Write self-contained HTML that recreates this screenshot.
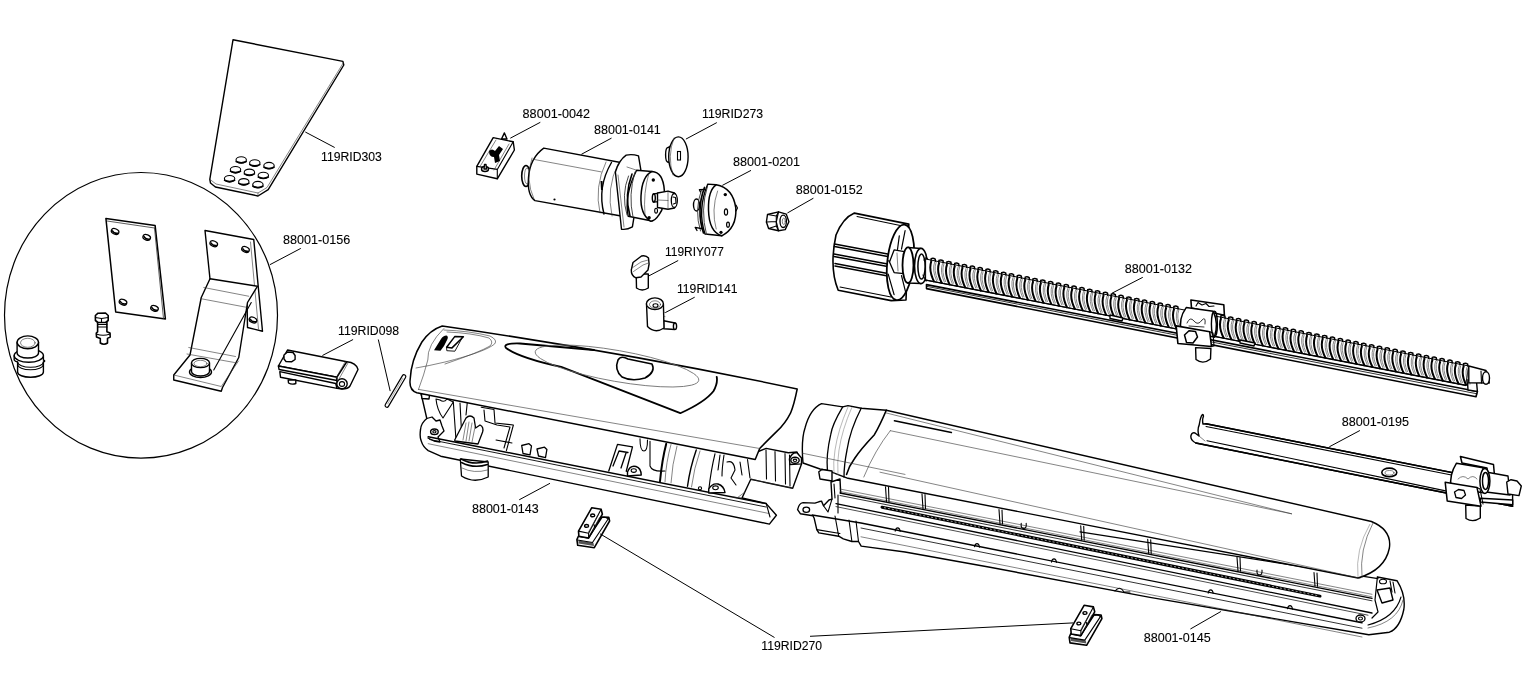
<!DOCTYPE html>
<html><head><meta charset="utf-8"><style>
html,body{margin:0;padding:0;background:#fff;}
svg{display:block;will-change:transform;}
text{font-family:"Liberation Sans",sans-serif;font-size:12px;fill:#000;stroke:#000;stroke-width:0.1;}
.o{fill:#fff;stroke:#000;stroke-width:1.4;stroke-linejoin:round;stroke-linecap:round;}
.l{fill:none;stroke:#000;stroke-width:1.1;stroke-linecap:round;stroke-linejoin:round;}
.t{fill:none;stroke:#333;stroke-width:0.6;stroke-linecap:round;}
.g{fill:none;stroke:#888;stroke-width:0.6;}
.k{fill:none;stroke:#000;stroke-width:1.8;stroke-linecap:round;stroke-linejoin:round;}
.ld{fill:none;stroke:#000;stroke-width:1;}
</style></head><body>
<svg width="1525" height="680" viewBox="0 0 1525 680">
<rect width="1525" height="680" fill="#fff"/>

<!-- PART A: 119RID303 plate -->
<g id="plate303">
<path class="o" d="M233,39.8 L342.9,61.4 L343.8,65 L268.2,189.6 L258,196 L215.4,187 L210.5,183 L209.8,179.3 Z"/>
<path class="t" d="M209.8,179.3 L216,184 L258,193 L267,187.5 L343.2,63"/>
<path class="t" d="M258,193 L258,196"/>
<g class="o" style="stroke-width:1.1">
<ellipse cx="241.2" cy="160" rx="5.2" ry="3.3"/>
<ellipse cx="254.8" cy="163.1" rx="5.2" ry="3.3"/>
<ellipse cx="269" cy="165.7" rx="5.2" ry="3.3"/>
<ellipse cx="235.5" cy="169.8" rx="5.2" ry="3.3"/>
<ellipse cx="249.4" cy="172.4" rx="5.2" ry="3.3"/>
<ellipse cx="263.3" cy="175.5" rx="5.2" ry="3.3"/>
<ellipse cx="229.6" cy="178.8" rx="5.2" ry="3.3"/>
<ellipse cx="243.8" cy="181.9" rx="5.2" ry="3.3"/>
<ellipse cx="257.9" cy="184.7" rx="5.2" ry="3.3"/>
</g>
<g class="k" style="stroke-width:1.6">
<path d="M236.2,161.5 Q241.2,164 246.2,161.5"/>
<path d="M249.8,164.6 Q254.8,167.1 259.8,164.6"/>
<path d="M264,167.2 Q269,169.7 274,167.2"/>
<path d="M230.5,171.3 Q235.5,173.8 240.5,171.3"/>
<path d="M244.4,173.9 Q249.4,176.4 254.4,173.9"/>
<path d="M258.3,177 Q263.3,179.5 268.3,177"/>
<path d="M224.6,180.3 Q229.6,182.8 234.6,180.3"/>
<path d="M238.8,183.4 Q243.8,185.9 248.8,183.4"/>
<path d="M252.9,186.2 Q257.9,188.7 262.9,186.2"/>
</g>
</g>
<!-- PART B: circle detail -->
<g id="circle156">
<ellipse cx="141" cy="315.35" rx="136.5" ry="142.85" fill="none" stroke="#000" stroke-width="1.2"/>
<!-- flat plate -->
<path class="o" style="stroke-width:1.5" d="M105.9,218.4 L155.1,225.4 L165.4,319 L115.7,312 Z"/>
<path class="t" style="stroke-width:0.8" d="M107,221 L154.5,228 M154.5,228 L163.5,318.5"/>
<ellipse cx="115.1" cy="231.5" rx="3.9" ry="2.7" transform="rotate(22 115.1 231.5)" fill="#fff" stroke="#000" stroke-width="1.3"/><path d="M112.1,230.3 Q114.1,234.0 118.3,233.1" fill="none" stroke="#000" stroke-width="1.4"/>
<ellipse cx="146.7" cy="237.4" rx="3.9" ry="2.7" transform="rotate(22 146.7 237.4)" fill="#fff" stroke="#000" stroke-width="1.3"/><path d="M143.7,236.20000000000002 Q145.7,239.9 149.89999999999998,239.0" fill="none" stroke="#000" stroke-width="1.4"/>
<ellipse cx="123" cy="302.2" rx="3.9" ry="2.7" transform="rotate(22 123 302.2)" fill="#fff" stroke="#000" stroke-width="1.3"/><path d="M120,301.0 Q122,304.7 126.2,303.8" fill="none" stroke="#000" stroke-width="1.4"/>
<ellipse cx="154.5" cy="308.4" rx="3.9" ry="2.7" transform="rotate(22 154.5 308.4)" fill="#fff" stroke="#000" stroke-width="1.3"/><path d="M151.5,307.2 Q153.5,310.9 157.7,310.0" fill="none" stroke="#000" stroke-width="1.4"/>
<!-- bracket -->
<path class="o" d="M205,230.5 L253.75,239.5 L262.5,331.25 L247.5,327.5 L247,300 L210,279 Z"/>
<path class="t" d="M250.5,242 L258.5,329"/>
<ellipse cx="213.75" cy="243.75" rx="3.9" ry="2.7" transform="rotate(22 213.75 243.75)" fill="#fff" stroke="#000" stroke-width="1.3"/><path d="M210.75,242.55 Q212.75,246.25 216.95,245.35" fill="none" stroke="#000" stroke-width="1.4"/>
<ellipse cx="245.5" cy="249.5" rx="3.9" ry="2.7" transform="rotate(22 245.5 249.5)" fill="#fff" stroke="#000" stroke-width="1.3"/><path d="M242.5,248.3 Q244.5,252.0 248.7,251.1" fill="none" stroke="#000" stroke-width="1.4"/>
<ellipse cx="253" cy="320" rx="3.9" ry="2.7" transform="rotate(22 253 320)" fill="#fff" stroke="#000" stroke-width="1.3"/><path d="M250,318.8 Q252,322.5 256.2,321.6" fill="none" stroke="#000" stroke-width="1.4"/>
<path class="o" d="M210,278.75 L201.25,297.5 L190,355 L173.75,375 L173.75,380 L221.25,391.25 L222.5,387.5 L238.75,357.5 L247.5,302.5 L257.5,286.25 Z"/>
<path class="t" d="M203.75,287.5 L248.75,296.25 M201.25,298.75 L247.5,307.5 M188.75,347.5 L235.5,356.5 M187,354 L234.5,362.5 M173.75,375 L221.25,386.5 L238.5,361"/>
<path class="l" d="M251.25,302.5 L213.75,370"/>
<ellipse cx="200.5" cy="372" rx="11" ry="5.5" class="o"/>
<path class="o" d="M191.5,363 L191.5,371.5 A9,4.5 0 0 0 209.5,371.5 L209.5,363 Z"/>
<ellipse cx="200.5" cy="363" rx="9" ry="4.6" class="o"/>
<ellipse cx="200.5" cy="363.5" rx="6.5" ry="3.2" class="t"/>
<!-- bolt -->
<path class="o" style="stroke-width:1.6" d="M97.6,321.8 L97.6,331.8 L96.3,333 L96.5,337 L100.3,338.4 L100.3,343 Q104,345.5 107.5,343 L107.5,338.4 L110.2,337 L110,333 L106.9,331.8 L106.9,321.8 Z"/>
<path class="o" style="stroke-width:1.6" d="M95.4,315.5 L98,313.2 L105.5,313 L108.2,315.5 L108.2,320.5 L105.5,322.5 L98,322.5 L95.4,320.5 Z"/>
<path class="l" d="M95.4,317.5 L101.5,318.5 L108.2,317.5 M101.5,318.5 L101.5,322.5 M97.6,324.5 L106.9,324.5 M97.6,327 L106.9,327 M96.3,334 Q103,336.5 110,334"/>
<!-- big nut -->
<path class="o" d="M14.2,355.6 L14.2,360 Q15,361.5 17.6,362 L17.6,372 A12.9,5.3 0 0 0 43.4,372 L43.4,362 Q46,361 43.4,360 L43.4,355.6 Z"/>
<ellipse cx="28.8" cy="355.6" rx="14.6" ry="6.6" class="o"/>
<path class="o" d="M17.1,342.3 L17.1,353 A10.7,5 0 0 0 38.5,353 L38.5,342.3 Z"/>
<ellipse cx="27.8" cy="342.3" rx="10.7" ry="6.4" class="o"/>
<ellipse cx="27.8" cy="342.8" rx="7.3" ry="4.5" class="t"/>
<path class="l" d="M17.6,362 A12.9,5.3 0 0 0 43.4,362 M17.6,364.5 A12.9,5.3 0 0 0 43.4,364.5"/>
</g>
<!-- PART C: hinge 119RID098 -->
<g id="hinge098">
<path class="o" d="M279.8,371.6 L280.5,377.2 L337,388.4 L335.7,383.5 Z"/>
<path class="o" d="M288.2,380 L288.5,383 Q292,385 295.8,383.5 L295.8,380 Z"/>
<path class="o" d="M287.5,350 L346.8,361.8 L337,377.2 L278.4,366 Z"/>
<path class="o" d="M278.4,366 L279.1,369.5 L337,380.5 L337,377.2 Z"/>
<path class="o" d="M346.8,361.8 Q356,362.5 358,369.5 L350,386 Q348,389 342,389 L337,388.4 L337,377.2 Z"/>
<ellipse cx="342" cy="383.8" rx="5.2" ry="5" class="o"/>
<ellipse cx="342" cy="384" rx="2.6" ry="2.4" class="l"/>
<path class="t" d="M345,362 L336,378 M348,363 L339,379"/>
<path class="o" d="M284,355 L287.5,352 L293,352.5 L295.1,355.5 L295.1,359.5 L291.5,361.8 L286,361.5 L284,359 Z"/>
<line x1="386.9" y1="405.4" x2="404" y2="376.6" stroke="#000" stroke-width="4.8" stroke-linecap="round"/>
<line x1="386.9" y1="405.4" x2="404" y2="376.6" stroke="#fff" stroke-width="2.4" stroke-linecap="round"/>
<line x1="387.5" y1="404.2" x2="403" y2="378" stroke="#777" stroke-width="0.6"/>
</g>


<!-- PART D: switch 0042 -->
<g id="switch">
<path class="o" d="M476.8,166.4 L493.2,137.6 L513.2,141.8 L514.4,150 L497.3,178.8 L476.8,174.1 Z"/>
<path class="l" d="M476.8,166.4 L497.3,169.4 L513.2,141.8 M497.3,169.4 L497.3,178.8"/>
<path class="t" d="M480,166.5 L496,140 M509,144 L494,170"/>
<path class="o" d="M501.5,139 L504.4,132.9 L507,139 Z"/>
<path d="M489,151 Q492,148 495,151 L499,146 L503,149 L499,155 L500,161 L495,163 L494,157 Q489,157 489,151 Z" fill="#000"/>
<ellipse cx="485" cy="169" rx="3.5" ry="2.5" class="o"/>
<path class="o" d="M484,169 L484.5,164.5 L486,164.5 L486.5,169 Z"/>
</g>
<!-- PART E: motor 0141 -->
<g id="motor">
<ellipse cx="526" cy="176" rx="4.3" ry="10.5" class="o" style="stroke-width:1.6"/>
<ellipse cx="527" cy="176" rx="2.5" ry="8" class="t"/>
<path class="o" d="M543.75,148.1 L626,163.5 L624,216.5 L535,200.6 Q527,195 528.5,177.5 Q530,158 543.75,148.1 Z"/>
<path class="t" d="M533.75,159.4 L601.25,171.9"/>
<path class="t" d="M532,158 Q525,180 534,199"/>
<path class="k" style="stroke-width:1.4" d="M611.5,162.5 Q597,187 604,214"/>
<path class="t" d="M606,162 Q594,187 600,213 M618,164 Q606,188 612,216"/>
<path d="M600.5,181 L602.5,181 L603,190 L601,190 Z" fill="#000"/>
<circle cx="554.5" cy="199.5" r="1.1" fill="#000"/>
<path class="o" d="M626.2,155.1 Q632,153.8 638.5,155.8 L640.8,169.7 L633.9,217.6 L632.4,226.9 Q627,230 621.5,229.2 L615.4,172 Q619,160 626.2,155.1 Z"/>
<path class="t" d="M627,167 L636,170 M618,175 L624,227"/>
<path class="o" d="M636.6,170.2 L652,171.5 L652,221 L628.2,216.3 Q624,195 636.6,170.2 Z"/>
<path class="o" style="stroke-width:1.5" d="M652,171.5 Q663,172 664.3,190 Q665,208 658.9,214.9 Q655,221 650.5,221.2 Q640,214 641,196 Q642,176 652,171.5 Z"/>
<path class="t" d="M649,173 Q643,193 645,214.9"/>
<path class="k" style="stroke-width:1.6" d="M632,174 Q624,195 630,216"/>
<path class="t" style="stroke-width:0.9" d="M628.5,176 Q621,195 627,215 M635,172 Q628,195 633,217"/>
<circle cx="653.3" cy="180" r="1.7" fill="#000"/>
<circle cx="649.1" cy="217.7" r="1.7" fill="#000"/>
<ellipse cx="656.1" cy="210.7" rx="1.4" ry="2.4" class="l"/>
<path class="o" style="stroke-width:1.3" d="M653.3,194 L659,193.2 L659,201.6 L653.3,202 Z"/>
<ellipse cx="653.8" cy="198" rx="1.5" ry="4" class="o"/>
<path class="o" style="stroke-width:1.4" d="M657.5,193 L668,191.1 L674.5,193 L677,200.5 L674.5,208 L668,209.3 L657.5,207.5 Z"/>
<path class="t" d="M657.5,200 L668,200.5 M668,191.1 L668,209.3"/>
<ellipse cx="674.3" cy="200.5" rx="3" ry="7" class="o" style="stroke-width:1.3"/>
<path class="l" d="M673,197 L675.5,197.5 L676,203 L673.5,204"/>
</g>
<!-- PART F: disc 273 -->
<g id="disc">
<path class="o" d="M668,147.5 L676,143 L676,167 L668,162 Z"/>
<ellipse cx="668.2" cy="154.8" rx="2.6" ry="7.4" class="o"/>
<ellipse cx="678.4" cy="156.8" rx="9.7" ry="19.9" class="o"/>
<path class="t" d="M674,138 Q667,156 673,175"/>
<rect x="677.5" y="151.5" width="3" height="8.5" fill="#fff" stroke="#000" stroke-width="1.1"/>
</g>
<!-- gear 0201 -->
<g id="gear">
<ellipse cx="696.5" cy="205" rx="3" ry="6" class="o"/>
<path class="o" style="stroke-width:1.4" d="M707.8,184.1 L716.2,184.8 L721.8,235.8 L705,234 Q697,210 707.8,184.1 Z"/>
<path class="o" style="stroke-width:1.5" d="M716.2,184.8 Q733,188 735.8,208 Q737,228 721.8,235.8 Q709,232 708.5,210 Q708,190 716.2,184.8 Z"/>
<path class="t" d="M717.6,191 Q711,210 716.2,229"/>
<path class="k" style="stroke-width:1.7" d="M704.5,187.5 Q696,210 703.5,233"/>
<path class="t" style="stroke-width:0.9" d="M707.5,186 Q700,210 706.5,234.5 M701.5,190 Q694,210 700.5,231"/>
<path class="l" style="stroke-width:1.3" d="M705,189.5 L699.4,189.7 L700.5,192 M703.5,229 L695.2,227.4 L697,230.5"/>
<circle cx="725.3" cy="194.6" r="1.7" fill="#000"/>
<ellipse cx="726" cy="212" rx="1.6" ry="3.2" class="l" style="stroke-width:1.2"/>
<ellipse cx="728" cy="224.7" rx="1.4" ry="2.5" class="l" style="stroke-width:1.2"/>
<circle cx="721" cy="232.3" r="1.6" fill="#000"/>
<path class="l" d="M736,205 L737.5,208 L736,211"/>
</g>
<!-- nut 0152 -->
<g id="nut152">
<path class="o" style="stroke-width:1.4" d="M767.5,214.5 L778.5,211.9 L786.3,214.1 L788.9,221.8 L785.2,229.6 L778.5,230.7 L768.6,228.5 L766.4,222 Z"/>
<path class="l" d="M767.5,214.5 L776.3,216 L778.5,211.9 M776.3,216 L776.3,226 L778.5,230.7 M766.4,222 L776.3,221.5 M776.3,226 L768.6,228.5"/>
<path class="l" style="stroke-width:1.2" d="M778.5,211.9 L776.3,221.8 L778.5,230.7"/>
<ellipse cx="783.2" cy="221.3" rx="3.2" ry="6.2" class="l" style="stroke-width:1.3"/>
<ellipse cx="783.8" cy="221.3" rx="1.5" ry="3.2" class="t"/>
</g>
<!-- key 077 -->
<g id="key">
<path class="o" d="M636.2,274 L636.5,288 Q642,292 648.3,288 L648.3,274 Z"/>
<path class="o" d="M631.3,269.8 L633,262.5 L641.5,256 Q646,255 648.5,258 L649.1,264 L648,270 L641,277 L636,277.8 Q631,276 631.3,269.8 Z"/>
<path class="t" d="M632,268 L641,262 L648,260 M633.5,271.5 L643,265 L648.5,263"/>
</g>
<!-- cylinder 141 -->
<g id="cyl141">
<path class="o" d="M663.7,320.7 L675,323 L675,329.5 L663.7,328.8 Z"/>
<ellipse cx="675" cy="326.2" rx="1.6" ry="3.2" class="o"/>
<path class="o" d="M646.5,304 L647.5,326.5 Q655,334 664,328 L663.4,304 Z"/>
<ellipse cx="654.9" cy="303.7" rx="8.5" ry="5.8" class="o"/>
<ellipse cx="655" cy="304.5" rx="5.5" ry="3.7" class="t"/>
<ellipse cx="655.5" cy="305.5" rx="2.5" ry="1.8" class="l"/>
<path class="t" d="M663.5,312 L665,312.5 M663.5,316 L665,316.5"/>
</g>


<!-- PART G: screw 0132 -->
<g id="screw">
<!-- rail -->
<path class="o" style="stroke-width:1.6" d="M926.5,284.6 L1477.4,391.5 L1476,396.8 L926.5,288.6 Z"/>
<path class="l" style="stroke-width:0.8" d="M926.5,286.3 L1477,393.8"/>
<path class="o" d="M1467.4,380 L1476.5,381.5 L1477.4,391.5 L1468,390 Z"/>
<!-- drum -->
<path class="o" d="M854.4,213.1 L908.8,224.1 L906,300 L891.2,300.6 L838.2,290.3 Q829,268 836,235 Q843,218 854.4,213.1 Z" style="stroke-width:1.6"/>
<path class="l" d="M857,216.5 L905,226.5 M840,287 L891,297"/>
<path class="k" style="stroke-width:1.5" d="M834.5,244 L893,255 M834.5,246.5 L893,257.5 M834,254 L893,265 M834,256.5 L893,267.5 M835,263.5 L893,274.5 M835,266 L893,277"/>
<ellipse cx="900.5" cy="262.4" rx="13.2" ry="38" class="o" style="stroke-width:1.8" transform="rotate(6 900.5 262.4)"/>
<path class="l" style="stroke-width:1.2" d="M905.1,230.7 L901.5,249.1 M899.3,235.9 L897.5,249.5 M888.2,274.1 L894.1,294.7 M901.5,275.6 L905.9,293.2 M888.2,260.9 L894.1,262"/>
<path class="o" style="stroke-width:1.3" d="M894.1,249.9 L907.4,252.1 L908.8,274.1 L894.1,272.6 L889.5,262 Z"/>
<path class="t" d="M897,253 L898,271 M903,254 L904,273"/>
<!-- collar -->
<path class="o" d="M908,247.5 L921,248.5 L921,283.5 L908,283 Z"/>
<ellipse cx="908" cy="265.2" rx="5.5" ry="17.8" class="o" style="stroke-width:1.8"/>
<ellipse cx="921" cy="266" rx="6.5" ry="17.6" class="o" style="stroke-width:1.6"/>
<ellipse cx="921.5" cy="266.5" rx="3.6" ry="12.5" class="o" style="stroke-width:1.5"/>
<path class="l" d="M924,260 L926,257.5 L928,259.5 M923,275 L926,281 L929,280"/>
<!-- screw body -->
<path class="o" d="M926,259.1 L1468.8,366.0 L1465.5,385.3 L926,280.1 Z" style="stroke-width:1"/>
<path d="M934.7,262.0 Q931.7,270.0 936.7,281.0 M936.2,262.0 Q933.2,270.0 938.0,280.5 M942.5,263.6 Q939.5,271.6 944.5,282.5 M944.0,263.6 Q941.0,271.6 945.8,282.0 M950.4,265.1 Q947.4,273.1 952.4,284.1 M951.9,265.1 Q948.9,273.1 953.7,283.6 M958.2,266.7 Q955.2,274.6 960.2,285.6 M959.7,266.7 Q956.7,274.6 961.5,285.1 M966.0,268.2 Q963.0,276.2 968.0,287.1 M967.5,268.2 Q964.5,276.2 969.3,286.6 M973.9,269.7 Q970.9,277.7 975.9,288.6 M975.4,269.7 Q972.4,277.7 977.2,288.1 M981.7,271.3 Q978.7,279.2 983.7,290.2 M983.2,271.3 Q980.2,279.2 985.0,289.7 M989.5,272.8 Q986.5,280.8 991.5,291.7 M991.0,272.8 Q988.0,280.8 992.8,291.2 M997.3,274.4 Q994.3,282.3 999.3,293.2 M998.8,274.4 Q995.8,282.3 1000.6,292.7 M1005.2,275.9 Q1002.2,283.8 1007.2,294.8 M1006.7,275.9 Q1003.7,283.8 1008.5,294.3 M1013.0,277.4 Q1010.0,285.4 1015.0,296.3 M1014.5,277.4 Q1011.5,285.4 1016.3,295.8 M1020.8,279.0 Q1017.8,286.9 1022.8,297.8 M1022.3,279.0 Q1019.3,286.9 1024.1,297.3 M1028.7,280.5 Q1025.7,288.4 1030.7,299.3 M1030.2,280.5 Q1027.2,288.4 1032.0,298.8 M1036.5,282.1 Q1033.5,290.0 1038.5,300.9 M1038.0,282.1 Q1035.0,290.0 1039.8,300.4 M1044.3,283.6 Q1041.3,291.5 1046.3,302.4 M1045.8,283.6 Q1042.8,291.5 1047.6,301.9 M1052.2,285.2 Q1049.2,293.0 1054.2,303.9 M1053.7,285.2 Q1050.7,293.0 1055.5,303.4 M1060.0,286.7 Q1057.0,294.6 1062.0,305.4 M1061.5,286.7 Q1058.5,294.6 1063.3,304.9 M1067.8,288.2 Q1064.8,296.1 1069.8,307.0 M1069.3,288.2 Q1066.3,296.1 1071.1,306.5 M1075.6,289.8 Q1072.6,297.6 1077.6,308.5 M1077.1,289.8 Q1074.1,297.6 1078.9,308.0 M1083.5,291.3 Q1080.5,299.2 1085.5,310.0 M1085.0,291.3 Q1082.0,299.2 1086.8,309.5 M1091.3,292.9 Q1088.3,300.7 1093.3,311.6 M1092.8,292.9 Q1089.8,300.7 1094.6,311.1 M1099.1,294.4 Q1096.1,302.2 1101.1,313.1 M1100.6,294.4 Q1097.6,302.2 1102.4,312.6 M1107.0,296.0 Q1104.0,303.8 1109.0,314.6 M1108.5,296.0 Q1105.5,303.8 1110.3,314.1 M1114.8,297.5 Q1111.8,305.3 1116.8,316.1 M1116.3,297.5 Q1113.3,305.3 1118.1,315.6 M1122.6,299.0 Q1119.6,306.9 1124.6,317.7 M1124.1,299.0 Q1121.1,306.9 1125.9,317.2 M1130.4,300.6 Q1127.4,308.4 1132.4,319.2 M1131.9,300.6 Q1128.9,308.4 1133.7,318.7 M1138.3,302.1 Q1135.3,309.9 1140.3,320.7 M1139.8,302.1 Q1136.8,309.9 1141.6,320.2 M1146.1,303.7 Q1143.1,311.5 1148.1,322.2 M1147.6,303.7 Q1144.6,311.5 1149.4,321.7 M1153.9,305.2 Q1150.9,313.0 1155.9,323.8 M1155.4,305.2 Q1152.4,313.0 1157.2,323.3 M1161.8,306.8 Q1158.8,314.5 1163.8,325.3 M1163.3,306.8 Q1160.3,314.5 1165.1,324.8 M1169.6,308.3 Q1166.6,316.1 1171.6,326.8 M1171.1,308.3 Q1168.1,316.1 1172.9,326.3 M1177.4,309.8 Q1174.4,317.6 1179.4,328.3 M1178.9,309.8 Q1175.9,317.6 1180.7,327.8 M1224.4,319.1 Q1221.4,326.8 1226.4,337.5 M1225.9,319.1 Q1222.9,326.8 1227.7,337.0 M1232.2,320.6 Q1229.2,328.3 1234.2,339.0 M1233.7,320.6 Q1230.7,328.3 1235.5,338.5 M1240.1,322.2 Q1237.1,329.9 1242.1,340.6 M1241.6,322.2 Q1238.6,329.9 1243.4,340.1 M1247.9,323.7 Q1244.9,331.4 1249.9,342.1 M1249.4,323.7 Q1246.4,331.4 1251.2,341.6 M1255.7,325.3 Q1252.7,332.9 1257.7,343.6 M1257.2,325.3 Q1254.2,332.9 1259.0,343.1 M1263.6,326.8 Q1260.6,334.5 1265.6,345.1 M1265.1,326.8 Q1262.1,334.5 1266.9,344.6 M1271.4,328.4 Q1268.4,336.0 1273.4,346.7 M1272.9,328.4 Q1269.9,336.0 1274.7,346.2 M1279.2,329.9 Q1276.2,337.5 1281.2,348.2 M1280.7,329.9 Q1277.7,337.5 1282.5,347.7 M1287.0,331.4 Q1284.0,339.1 1289.0,349.7 M1288.5,331.4 Q1285.5,339.1 1290.3,349.2 M1294.9,333.0 Q1291.9,340.6 1296.9,351.2 M1296.4,333.0 Q1293.4,340.6 1298.2,350.7 M1302.7,334.5 Q1299.7,342.1 1304.7,352.8 M1304.2,334.5 Q1301.2,342.1 1306.0,352.3 M1310.5,336.1 Q1307.5,343.7 1312.5,354.3 M1312.0,336.1 Q1309.0,343.7 1313.8,353.8 M1318.4,337.6 Q1315.4,345.2 1320.4,355.8 M1319.9,337.6 Q1316.9,345.2 1321.7,355.3 M1326.2,339.1 Q1323.2,346.8 1328.2,357.4 M1327.7,339.1 Q1324.7,346.8 1329.5,356.9 M1334.0,340.7 Q1331.0,348.3 1336.0,358.9 M1335.5,340.7 Q1332.5,348.3 1337.3,358.4 M1341.9,342.2 Q1338.9,349.8 1343.9,360.4 M1343.4,342.2 Q1340.4,349.8 1345.2,359.9 M1349.7,343.8 Q1346.7,351.4 1351.7,361.9 M1351.2,343.8 Q1348.2,351.4 1353.0,361.4 M1357.5,345.3 Q1354.5,352.9 1359.5,363.5 M1359.0,345.3 Q1356.0,352.9 1360.8,363.0 M1365.3,346.9 Q1362.3,354.4 1367.3,365.0 M1366.8,346.9 Q1363.8,354.4 1368.6,364.5 M1373.2,348.4 Q1370.2,356.0 1375.2,366.5 M1374.7,348.4 Q1371.7,356.0 1376.5,366.0 M1381.0,349.9 Q1378.0,357.5 1383.0,368.0 M1382.5,349.9 Q1379.5,357.5 1384.3,367.5 M1388.8,351.5 Q1385.8,359.0 1390.8,369.6 M1390.3,351.5 Q1387.3,359.0 1392.1,369.1 M1396.7,353.0 Q1393.7,360.6 1398.7,371.1 M1398.2,353.0 Q1395.2,360.6 1400.0,370.6 M1404.5,354.6 Q1401.5,362.1 1406.5,372.6 M1406.0,354.6 Q1403.0,362.1 1407.8,372.1 M1412.3,356.1 Q1409.3,363.6 1414.3,374.2 M1413.8,356.1 Q1410.8,363.6 1415.6,373.7 M1420.2,357.7 Q1417.2,365.2 1422.2,375.7 M1421.7,357.7 Q1418.7,365.2 1423.5,375.2 M1428.0,359.2 Q1425.0,366.7 1430.0,377.2 M1429.5,359.2 Q1426.5,366.7 1431.3,376.7 M1435.8,360.7 Q1432.8,368.2 1437.8,378.7 M1437.3,360.7 Q1434.3,368.2 1439.1,378.2 M1443.6,362.3 Q1440.6,369.8 1445.6,380.3 M1445.1,362.3 Q1442.1,369.8 1446.9,379.8 M1451.5,363.8 Q1448.5,371.3 1453.5,381.8 M1453.0,363.8 Q1450.0,371.3 1454.8,381.3 M1459.3,365.4 Q1456.3,372.8 1461.3,383.3 M1460.8,365.4 Q1457.8,372.8 1462.6,382.8 M1467.1,366.9 Q1464.1,374.4 1469.1,384.8 M1468.6,366.9 Q1465.6,374.4 1470.4,384.3" fill="none" stroke="#555" stroke-width="0.7"/>
<path d="M931.4,261.0 Q928.2,270.0 934.2,282.0 M939.2,262.6 Q936.0,271.6 942.0,283.5 M947.1,264.1 Q943.9,273.1 949.9,285.1 M954.9,265.7 Q951.7,274.6 957.7,286.6 M962.7,267.2 Q959.5,276.2 965.5,288.1 M970.6,268.7 Q967.4,277.7 973.4,289.6 M978.4,270.3 Q975.2,279.2 981.2,291.2 M986.2,271.8 Q983.0,280.8 989.0,292.7 M994.0,273.4 Q990.8,282.3 996.8,294.2 M1001.9,274.9 Q998.7,283.8 1004.7,295.8 M1009.7,276.4 Q1006.5,285.4 1012.5,297.3 M1017.5,278.0 Q1014.3,286.9 1020.3,298.8 M1025.4,279.5 Q1022.2,288.4 1028.2,300.3 M1033.2,281.1 Q1030.0,290.0 1036.0,301.9 M1041.0,282.6 Q1037.8,291.5 1043.8,303.4 M1048.9,284.2 Q1045.7,293.0 1051.7,304.9 M1056.7,285.7 Q1053.5,294.6 1059.5,306.4 M1064.5,287.2 Q1061.3,296.1 1067.3,308.0 M1072.3,288.8 Q1069.1,297.6 1075.1,309.5 M1080.2,290.3 Q1077.0,299.2 1083.0,311.0 M1088.0,291.9 Q1084.8,300.7 1090.8,312.6 M1095.8,293.4 Q1092.6,302.2 1098.6,314.1 M1103.7,295.0 Q1100.5,303.8 1106.5,315.6 M1111.5,296.5 Q1108.3,305.3 1114.3,317.1 M1119.3,298.0 Q1116.1,306.9 1122.1,318.7 M1127.1,299.6 Q1123.9,308.4 1129.9,320.2 M1135.0,301.1 Q1131.8,309.9 1137.8,321.7 M1142.8,302.7 Q1139.6,311.5 1145.6,323.2 M1150.6,304.2 Q1147.4,313.0 1153.4,324.8 M1158.5,305.8 Q1155.3,314.5 1161.3,326.3 M1166.3,307.3 Q1163.1,316.1 1169.1,327.8 M1174.1,308.8 Q1170.9,317.6 1176.9,329.3 M1221.1,318.1 Q1217.9,326.8 1223.9,338.5 M1228.9,319.6 Q1225.7,328.3 1231.7,340.0 M1236.8,321.2 Q1233.6,329.9 1239.6,341.6 M1244.6,322.7 Q1241.4,331.4 1247.4,343.1 M1252.4,324.3 Q1249.2,332.9 1255.2,344.6 M1260.3,325.8 Q1257.1,334.5 1263.1,346.1 M1268.1,327.4 Q1264.9,336.0 1270.9,347.7 M1275.9,328.9 Q1272.7,337.5 1278.7,349.2 M1283.7,330.4 Q1280.5,339.1 1286.5,350.7 M1291.6,332.0 Q1288.4,340.6 1294.4,352.2 M1299.4,333.5 Q1296.2,342.1 1302.2,353.8 M1307.2,335.1 Q1304.0,343.7 1310.0,355.3 M1315.1,336.6 Q1311.9,345.2 1317.9,356.8 M1322.9,338.1 Q1319.7,346.8 1325.7,358.4 M1330.7,339.7 Q1327.5,348.3 1333.5,359.9 M1338.6,341.2 Q1335.4,349.8 1341.4,361.4 M1346.4,342.8 Q1343.2,351.4 1349.2,362.9 M1354.2,344.3 Q1351.0,352.9 1357.0,364.5 M1362.0,345.9 Q1358.8,354.4 1364.8,366.0 M1369.9,347.4 Q1366.7,356.0 1372.7,367.5 M1377.7,348.9 Q1374.5,357.5 1380.5,369.0 M1385.5,350.5 Q1382.3,359.0 1388.3,370.6 M1393.4,352.0 Q1390.2,360.6 1396.2,372.1 M1401.2,353.6 Q1398.0,362.1 1404.0,373.6 M1409.0,355.1 Q1405.8,363.6 1411.8,375.2 M1416.9,356.7 Q1413.7,365.2 1419.7,376.7 M1424.7,358.2 Q1421.5,366.7 1427.5,378.2 M1432.5,359.7 Q1429.3,368.2 1435.3,379.7 M1440.3,361.3 Q1437.1,369.8 1443.1,381.3 M1448.2,362.8 Q1445.0,371.3 1451.0,382.8 M1456.0,364.4 Q1452.8,372.8 1458.8,384.3 M1463.8,365.9 Q1460.6,374.4 1466.6,385.8" fill="none" stroke="#000" stroke-width="2"/>
<path d="M931.0,261.5 L931.2,258.7 Q933.2,257.7 935.2,259.1 L935.5,261.8 M938.8,263.1 L939.0,260.3 Q941.0,259.3 943.0,260.7 L943.3,263.4 M946.7,264.6 L946.9,261.8 Q948.9,260.8 950.9,262.2 L951.2,264.9 M954.5,266.2 L954.7,263.4 Q956.7,262.4 958.7,263.8 L959.0,266.5 M962.3,267.7 L962.5,264.9 Q964.5,263.9 966.5,265.3 L966.8,268.0 M970.2,269.2 L970.4,266.4 Q972.4,265.4 974.4,266.8 L974.7,269.5 M978.0,270.8 L978.2,268.0 Q980.2,267.0 982.2,268.4 L982.5,271.1 M985.8,272.3 L986.0,269.5 Q988.0,268.5 990.0,269.9 L990.3,272.6 M993.6,273.9 L993.8,271.1 Q995.8,270.1 997.8,271.5 L998.1,274.2 M1001.5,275.4 L1001.7,272.6 Q1003.7,271.6 1005.7,273.0 L1006.0,275.7 M1009.3,276.9 L1009.5,274.1 Q1011.5,273.1 1013.5,274.5 L1013.8,277.2 M1017.1,278.5 L1017.3,275.7 Q1019.3,274.7 1021.3,276.1 L1021.6,278.8 M1025.0,280.0 L1025.2,277.2 Q1027.2,276.2 1029.2,277.6 L1029.5,280.3 M1032.8,281.6 L1033.0,278.8 Q1035.0,277.8 1037.0,279.2 L1037.3,281.9 M1040.6,283.1 L1040.8,280.3 Q1042.8,279.3 1044.8,280.7 L1045.1,283.4 M1048.5,284.7 L1048.7,281.9 Q1050.7,280.9 1052.7,282.3 L1053.0,285.0 M1056.3,286.2 L1056.5,283.4 Q1058.5,282.4 1060.5,283.8 L1060.8,286.5 M1064.1,287.7 L1064.3,284.9 Q1066.3,283.9 1068.3,285.3 L1068.6,288.0 M1071.9,289.3 L1072.1,286.5 Q1074.1,285.5 1076.1,286.9 L1076.4,289.6 M1079.8,290.8 L1080.0,288.0 Q1082.0,287.0 1084.0,288.4 L1084.3,291.1 M1087.6,292.4 L1087.8,289.6 Q1089.8,288.6 1091.8,290.0 L1092.1,292.7 M1095.4,293.9 L1095.6,291.1 Q1097.6,290.1 1099.6,291.5 L1099.9,294.2 M1103.3,295.5 L1103.5,292.7 Q1105.5,291.7 1107.5,293.1 L1107.8,295.8 M1111.1,297.0 L1111.3,294.2 Q1113.3,293.2 1115.3,294.6 L1115.6,297.3 M1118.9,298.5 L1119.1,295.7 Q1121.1,294.7 1123.1,296.1 L1123.4,298.8 M1126.7,300.1 L1126.9,297.3 Q1128.9,296.3 1130.9,297.7 L1131.2,300.4 M1134.6,301.6 L1134.8,298.8 Q1136.8,297.8 1138.8,299.2 L1139.1,301.9 M1142.4,303.2 L1142.6,300.4 Q1144.6,299.4 1146.6,300.8 L1146.9,303.5 M1150.2,304.7 L1150.4,301.9 Q1152.4,300.9 1154.4,302.3 L1154.7,305.0 M1158.1,306.3 L1158.3,303.5 Q1160.3,302.5 1162.3,303.9 L1162.6,306.6 M1165.9,307.8 L1166.1,305.0 Q1168.1,304.0 1170.1,305.4 L1170.4,308.1 M1173.7,309.3 L1173.9,306.5 Q1175.9,305.5 1177.9,306.9 L1178.2,309.6 M1220.7,318.6 L1220.9,315.8 Q1222.9,314.8 1224.9,316.2 L1225.2,318.9 M1228.5,320.1 L1228.7,317.3 Q1230.7,316.3 1232.7,317.7 L1233.0,320.4 M1236.4,321.7 L1236.6,318.9 Q1238.6,317.9 1240.6,319.3 L1240.9,322.0 M1244.2,323.2 L1244.4,320.4 Q1246.4,319.4 1248.4,320.8 L1248.7,323.5 M1252.0,324.8 L1252.2,322.0 Q1254.2,321.0 1256.2,322.4 L1256.5,325.1 M1259.9,326.3 L1260.1,323.5 Q1262.1,322.5 1264.1,323.9 L1264.4,326.6 M1267.7,327.9 L1267.9,325.1 Q1269.9,324.1 1271.9,325.5 L1272.2,328.2 M1275.5,329.4 L1275.7,326.6 Q1277.7,325.6 1279.7,327.0 L1280.0,329.7 M1283.3,330.9 L1283.5,328.1 Q1285.5,327.1 1287.5,328.5 L1287.8,331.2 M1291.2,332.5 L1291.4,329.7 Q1293.4,328.7 1295.4,330.1 L1295.7,332.8 M1299.0,334.0 L1299.2,331.2 Q1301.2,330.2 1303.2,331.6 L1303.5,334.3 M1306.8,335.6 L1307.0,332.8 Q1309.0,331.8 1311.0,333.2 L1311.3,335.9 M1314.7,337.1 L1314.9,334.3 Q1316.9,333.3 1318.9,334.7 L1319.2,337.4 M1322.5,338.6 L1322.7,335.8 Q1324.7,334.8 1326.7,336.2 L1327.0,338.9 M1330.3,340.2 L1330.5,337.4 Q1332.5,336.4 1334.5,337.8 L1334.8,340.5 M1338.2,341.7 L1338.4,338.9 Q1340.4,337.9 1342.4,339.3 L1342.7,342.0 M1346.0,343.3 L1346.2,340.5 Q1348.2,339.5 1350.2,340.9 L1350.5,343.6 M1353.8,344.8 L1354.0,342.0 Q1356.0,341.0 1358.0,342.4 L1358.3,345.1 M1361.6,346.4 L1361.8,343.6 Q1363.8,342.6 1365.8,344.0 L1366.1,346.7 M1369.5,347.9 L1369.7,345.1 Q1371.7,344.1 1373.7,345.5 L1374.0,348.2 M1377.3,349.4 L1377.5,346.6 Q1379.5,345.6 1381.5,347.0 L1381.8,349.7 M1385.1,351.0 L1385.3,348.2 Q1387.3,347.2 1389.3,348.6 L1389.6,351.3 M1393.0,352.5 L1393.2,349.7 Q1395.2,348.7 1397.2,350.1 L1397.5,352.8 M1400.8,354.1 L1401.0,351.3 Q1403.0,350.3 1405.0,351.7 L1405.3,354.4 M1408.6,355.6 L1408.8,352.8 Q1410.8,351.8 1412.8,353.2 L1413.1,355.9 M1416.5,357.2 L1416.7,354.4 Q1418.7,353.4 1420.7,354.8 L1421.0,357.5 M1424.3,358.7 L1424.5,355.9 Q1426.5,354.9 1428.5,356.3 L1428.8,359.0 M1432.1,360.2 L1432.3,357.4 Q1434.3,356.4 1436.3,357.8 L1436.6,360.5 M1439.9,361.8 L1440.1,359.0 Q1442.1,358.0 1444.1,359.4 L1444.4,362.1 M1447.8,363.3 L1448.0,360.5 Q1450.0,359.5 1452.0,360.9 L1452.3,363.6 M1455.6,364.9 L1455.8,362.1 Q1457.8,361.1 1459.8,362.5 L1460.1,365.2 M1463.4,366.4 L1463.6,363.6 Q1465.6,362.6 1467.6,364.0 L1467.9,366.7" fill="none" stroke="#000" stroke-width="1.5"/>
<path class="l" style="stroke-width:1.4" d="M926,280.1 L1180,329.6 M1213,336.1 L1465.5,385.3"/>
<!-- end shaft -->
<path class="o" d="M1468.8,366 L1486,370.5 L1489.3,383 L1468.8,382.9 Z"/>
<ellipse cx="1486" cy="378" rx="3.5" ry="6.2" class="o"/>
<path class="l" d="M1481,371 L1481.5,383"/>
<!-- carriage -->
<path class="o" style="stroke-width:1.6" d="M1190.9,300 L1223.8,304.7 L1224.4,315.3 L1191.5,308 Z"/>
<path class="l" d="M1196,306 L1198,302.5 L1202,305 L1206,303.5 L1209,306.5 L1214,306"/>
<path class="o" style="stroke-width:1.5" d="M1186.2,307.6 L1213.2,311.2 Q1219,324 1214.4,337 L1181.5,331 Q1178,319 1186.2,307.6 Z"/>
<ellipse cx="1214.4" cy="324.1" rx="3" ry="13" class="l" style="stroke-width:1.4"/>
<path class="t" style="stroke-width:1" d="M1187,323 Q1190,316 1194,321 Q1198,326 1202,320 Q1206,316 1205,324 M1189,326 L1204,327"/>
<path class="o" style="stroke-width:1.6" d="M1176.2,325.9 L1209.7,331.8 L1211.5,346.5 L1177.9,343.5 Z"/>
<path class="l" d="M1209.7,331.8 L1213,333 L1214,346 L1211.5,346.5"/>
<path class="o" style="stroke-width:1.5" d="M1184.5,335 L1189,330.8 L1195.5,331.5 L1197.5,337 L1193,343 L1186.5,342.5 Z"/>
<path class="o" style="stroke-width:1.4" d="M1195.6,347.6 L1210.9,348.5 L1210.5,359 Q1203,365 1196,359.5 Z"/>
<path class="o" d="M1110,315 L1123,318 L1122,321 L1110,318.5 Z"/>
<path class="o" d="M1240,340 L1255,343 L1254,346 L1240,343 Z"/>
</g>

<!-- PART H: housing 0143 + cover -->
<g id="housing143">
<path class="o" style="stroke-width:1.4" d="M426.8,418.5 Q421,423 420.5,429.7 Q419.5,437 421.2,440.9 Q423,447 428.2,450.6 L440.7,456.2 L769.4,524.1 L776.4,515.3 L766.2,503.6 L742,498 L750.8,479.3 L792.7,488.2 L801.5,463.9 L797,452 L788.3,452.8 L766.2,448.4 L757,452 L420,389 Z"/>
<path class="k" style="stroke-width:1.5" d="M428.2,436.7 L766.2,503.6"/>
<path class="l" style="stroke-width:0.9" d="M429.6,439.5 L766,507"/>
<path class="t" d="M428.2,443.7 L769,513.5"/>
<path class="l" d="M766.2,503.6 L770,517"/>
<!-- left end cap -->
<path class="l" style="stroke-width:1.3" d="M426.8,418.5 L432,417 L436,421 L440,420 L442,426 L444,431 L438,437 L440,442 L434,441 L428,438"/>
<ellipse cx="434.4" cy="431.8" rx="3.8" ry="2.8" class="o" style="stroke-width:1.4"/>
<ellipse cx="434.4" cy="431.8" rx="1.6" ry="1.2" class="l"/>
<path class="l" d="M436,399 Q437,410 443,418 L453.3,402 L447,399 Q444,403 440,400 Z"/>
<path class="l" d="M453.3,401.8 L456,440 M460,403 L462,441 M467.3,402.5 L466,415"/>
<path class="o" style="stroke-width:1.3" d="M454.7,440 L466,418 Q470,414 474,418 L475.6,428 L480,425 Q484,427 482.6,432 L478,444 L455,441 Z"/>
<path class="t" d="M466,423 L463,440 M469,422 L466,441 M472,423 L469,441 M475,427 L472,442"/>
<path class="l" d="M481.2,407.3 L494,409.5 L495,423 L513.4,425 L506.4,450.6 M484,410 L485,421 L497,425 L510,427 L504,448"/>
<path class="l" d="M496,440 L512,443"/>
<path class="o" style="stroke-width:1.3" d="M521.7,445.5 L529,443.7 L531.5,446 L530,454.8 L523,453.5 Z"/>
<path class="o" style="stroke-width:1.3" d="M537,449 L544.5,447.2 L546.9,449.5 L545.5,457.6 L538.5,456 Z"/>
<path class="o" d="M421.2,393.4 L429.6,394.5 L429,399 L422,398.5 Z"/>
<!-- middle -->
<path class="l" style="stroke-width:1.3" d="M608.75,471 L617.5,444.4 L632.5,446.9 L626.25,471.25 M613,466 L619,451 L628,452.5 M621,468 L626,453"/>
<path class="o" d="M627.5,472 Q630,465 636,466.5 Q641,468 641.25,475 L627.5,476 Z"/>
<ellipse cx="633.75" cy="470.6" rx="2.6" ry="1.8" class="l"/>
<path class="l" d="M640,438.75 Q640,451 644,451 Q647.5,451 647.5,440"/>
<path class="l" d="M650,441.25 L650,466 Q652,472 665,471"/>
<path class="k" style="stroke-width:2" d="M666.25,443.75 Q662,460 660,481.25"/>
<path class="t" d="M671,444.5 Q666,462 665,482 M677,446 Q672,465 671,483"/>
<path class="k" style="stroke-width:1.4" d="M696.25,450 Q690,468 687.5,486.25"/>
<path class="t" d="M700,451 Q694,468 691.5,487"/>
<path class="l" d="M715,453.75 Q711,470 708.75,490 M720,455 L718,470 M724,455 Q722,468 722,476"/>
<path class="o" d="M708.75,489 Q712,483 718,484 Q724,486 725,492.5 L708.75,493 Z"/>
<ellipse cx="715.5" cy="487.8" rx="2.8" ry="1.9" class="l"/>
<circle cx="700" cy="488.3" r="1.6" class="l"/>
<path class="l" d="M727,462 Q734,460 735,470 L731,478 L736,485 M740,462 L742,475"/>
<!-- gearbox section -->
<path class="l" d="M747.5,459.5 L750,478 M766,450 L766.5,479 M775,451.5 L775.5,481 M785,453.5 L785.5,484 M789.5,455 L790,486"/>
<path class="t" d="M751,479.3 L792.7,488.2 M742,498 L733.1,497 M745,492 L737,498"/>
<path class="o" style="stroke-width:1.4" d="M789.4,459 Q792,452 797,452.8 L801.5,458 L801.5,463.9 L790,464.5 Z"/>
<ellipse cx="795" cy="460.3" rx="4.2" ry="3" class="o" style="stroke-width:1.4"/>
<ellipse cx="795" cy="460.3" rx="1.8" ry="1.2" class="l"/>
<!-- foot nut -->
<path class="o" style="stroke-width:1.3" d="M460.3,459 L461.5,476 Q474,484 488.2,477 L488.2,462 Z"/>
<path class="k" style="stroke-width:1.5" d="M461,459 Q474,466 487.5,461 M461.5,462.5 Q474,469 487.5,464.5"/>
<path class="t" d="M462,468 Q474,474 487.5,470"/>
</g>
<g id="cover">
<path class="o" style="stroke-width:1.5" d="M442.2,326 Q619.6,351.5 797.2,389 Q794,405 790.5,413.2 Q785,424 777.3,430.9 Q765,443 759.7,448.5 L755.2,459.5 L416.8,392.8 Q409,390 410.1,380 Q411,360 421.9,342 Q430,330 442.2,326 Z"/>
<path class="t" d="M418.5,389.4 L759.7,448.5"/>
<path class="t" d="M443.9,328.5 Q427,345 427.8,360 Q424,375 418.5,389.4"/>
<path class="t" d="M444,330 Q470,331 490,336 Q498,340 494.6,344 Q485,352 445,362 Q428,366 416,368"/>
<path class="t" d="M447,332 Q472,333 489,338 Q494,342 490,346 Q480,352 445,364"/>
<path d="M434,350.3 L441,339 Q443,335.5 446.5,335.5 Q448.5,336.5 447.5,339 L444,346 L440.5,350.7 Z" fill="#000"/>
<path class="l" style="stroke-width:1.5" d="M446.6,347.2 L454.9,336.4 L463.4,336.8 L452,347.9 Z"/>
<path class="l" style="stroke-width:0.9" d="M446.6,347.5 L446.8,350.7 L454.9,351.2 L461.5,339"/>
<path class="k" style="stroke-width:1.8" d="M594,350 L520,343.5 Q502,343 506,348 Q520,358 561.2,366.9 Q600,382 680.3,413.2 Q705,402 713.4,391.2 Q718,383 716.7,376.8"/>
<ellipse cx="617" cy="366" rx="83" ry="15.5" fill="none" stroke="#666" stroke-width="0.8" transform="rotate(10 617 366)"/>
<path class="k" style="stroke-width:1.6" d="M618,360 Q621,355 628,359 L652,364 Q656,372 645,378 Q632,382 622,377 Q614,370 618,360 Z"/>
</g>

<!-- PART I: tray + tube 0145 -->
<g id="tray">
<path fill="#fff" stroke="none" d="M797.6,509.7 Q799,503 803,502.6 L814.9,503.1 L818.8,501.8 L821.5,501.1 L823.5,505.7 L829,500 L832,499.1 L831,482 L840,479 L840.7,487.0 L1377.4,577 L1397,580.7 Q1406,595 1403.8,609.5 Q1400,628 1389.4,632.2 L1368.8,634.7 L1150,597.4 L990,567.3 L905,552 L861.2,546.1 L858.5,541.5 L851.9,541.5 L843.3,538.8 L838.7,536.2 L818.8,532.9 L816.8,529.6 L814.2,518.3 L812.9,515.7 L800.3,513.7 Z"/>
<path class="l" style="stroke-width:1.4" d="M840.7,493.2 L840,479 L831,482 L832,499.1 L829,500 L823.5,505.7 L821.5,501.1 L818.8,501.8 L814.9,503.1 L803,502.6 Q799,503 797.6,509.7 L800.3,513.7 L812.9,515.7 L814.2,518.3 L816.8,529.6 L818.8,532.9 L838.7,536.2 L843.3,538.8 L851.9,541.5 L858.5,541.5 L861.2,546.1 L905,552 L990,567.3 L1150,597.4 L1368.8,634.7 L1389.4,632.2 Q1400,628 1403.8,609.5 Q1406,595 1397,580.7 L1377.4,577"/>
<path class="t" d="M840,489 L1372,594.3 M840,491.5 L1372,596.8"/>
<path class="l" style="stroke-width:1.3" d="M840,493.0 L1372,598.3"/>
<path class="l" style="stroke-width:0.8" d="M840,495.5 L1372,600.8"/>
<path class="k" style="stroke-width:3" d="M882.0,507.2 L1320,596.1"/>
<path stroke="#fff" stroke-width="0.6" stroke-dasharray="2 2" d="M884,507.6 L1318,595.7"/>
<path class="l" style="stroke-width:1.3" d="M836,503.6 L1372,613.0"/>
<path class="l" style="stroke-width:0.7" d="M836,506.6 L1368,615.2"/>
<path class="l" style="stroke-width:1.4" d="M812.2,515 L861,523 L1362,622.8"/>
<path class="l" style="stroke-width:0.8" d="M861,528.0 L1362,628.2"/>
<path class="t" d="M861,536.8 L1362,637.0"/>
<path class="l" d="M838.7,536.2 L835,516 M851.9,541.5 L849,520 M858.5,541.5 L856,521 M816.8,529.6 L840,533.5"/>
<path class="l" d="M823.5,505.7 L828,512 L832,499.1 M838,495 L838,513 M834,484 L835,498"/>
<ellipse cx="806.3" cy="509.7" rx="3.3" ry="2.6" class="l" style="stroke-width:1.3"/>
<path class="l" d="M885.5,485.8 M885.5,486.8 L886.5,501.5 M888.5,487.3 L889.0,501.5 M922.0,494.1 L923.0,508.7 M925.0,494.6 L925.5,508.7 M999.0,509.5 L1000.0,524.0 M1002.0,510.0 L1002.5,524.0 M1080.7,525.8 L1081.7,540.1 M1083.7,526.3 L1084.2,540.1 M1147.7,539.2 L1148.7,553.4 M1150.7,539.7 L1151.2,553.4 M1237.0,557.1 L1238.0,571.1 M1240.0,557.6 L1240.5,571.1 M1314.0,572.5 L1315.0,586.3 M1317.0,573.0 L1317.5,586.3"/>
<path class="l" d="M895.2,531.1 Q895.7,527.9 897.7,527.9 Q899.7,527.9 900.2,531.4 M974.5,546.8 Q975.0,543.6 977.0,543.6 Q979.0,543.6 979.5,547.1 M1051.5,562.1 Q1052.0,558.9 1054.0,558.9 Q1056.0,558.9 1056.5,562.4 M1208.2,593.1 Q1208.7,589.9 1210.7,589.9 Q1212.7,589.9 1213.2,593.4 M1287.5,608.8 Q1288.0,605.6 1290.0,605.6 Q1292.0,605.6 1292.5,609.1"/>
<path class="l" d="M1021.2,523.4 Q1020.7,528.4 1023.7,528.4 Q1026.7,528.4 1026.2,523.4 M1257.0,570.0 Q1256.5,575.0 1259.5,575.0 Q1262.5,575.0 1262.0,570.0"/>
<path class="l" style="stroke-width:1.3" d="M1080,531.8 L1378,578.6"/>
<!-- right end -->
<path class="l" style="stroke-width:1.2" d="M1377.4,577 L1375,600 L1378,612 L1372,618"/>
<path class="o" d="M1377,590 L1390,588 L1393,600 L1382,603 Z"/>
<ellipse cx="1383" cy="581.5" rx="3.5" ry="2.3" class="l"/>
<path class="l" d="M1390,581 L1392,592 M1393,582 L1395,593"/>
<ellipse cx="1360.5" cy="618.5" rx="4.5" ry="3.5" class="o" style="stroke-width:1.3"/>
<ellipse cx="1360.5" cy="618.5" rx="2" ry="1.5" class="l"/>
<path class="l" d="M1368,625 Q1395,618 1401,597"/>
<path class="t" d="M1368,628 Q1398,622 1403,600"/>
<path class="l" d="M1115,591 Q1120,585 1124,592 L1130,592"/>
</g>
<g id="tube">
<path class="o" style="stroke-width:1.4" d="M821.5,403.6 L842.7,406.9 L848,405.6 L861.2,408.2 L886.3,410.2 L1371.4,521.5 Q1392,530 1389.4,548 Q1385,570 1358,578 L848.0,478.3 Q836,474 827.4,470.4 L820,469 L803,463 Q801,440 805,428 Q810,409 821.5,403.6 Z"/>
<path class="l" style="stroke-width:1.3" d="M842.7,406.9 Q832,425 830.7,434.7 Q826,455 827.4,470.4 M861.2,408.2 Q850,430 847,450 Q844,465 844,477"/>
<path class="g" d="M848,407 Q838,430 835,450 Q833,462 834,474 M852,407 Q842,430 839,450 Q837,462 838,475"/>
<path class="l" style="stroke-width:1.6" d="M886.3,410.2 Q880,425 874.4,434.7 Q860,450 854.6,458.5 Q849,466 846.6,474.4"/>
<path class="t" d="M890.3,430.7 Q875,450 863.8,477"/>
<path class="t" d="M802.3,453.2 L905,474.4"/>
<path class="k" style="stroke-width:1.5" d="M894.4,420.8 L951.4,432.6"/>
<path class="t" d="M886.3,413 L1291.6,513.8 M890.3,430.7 L1291.6,513.8"/>
<path class="t" d="M880,472.2 L1360,578.3"/>
<path class="g" d="M1370,524 Q1355,550 1358,577"/>
<path class="t" d="M1373,523 Q1359,550 1362,577"/>
<path class="o" d="M818.8,471.8 L822,469.5 L832,471 L832,481 L820,479 Z"/>
</g>

<!-- PART J: bracket 0195 -->
<g id="br195">
<path class="o" d="M1206,423.8 L1451.5,472.4 L1512.6,486 L1512.6,506.3 L1195.8,443 Q1190,440 1191,435.5 Q1192,432 1195,433 L1199,436 Q1197,430 1199.2,424.9 Q1200,419 1201.5,415.8 Q1203,413 1203.5,416 Q1202,420 1203,424 Z"/>
<path class="l" style="stroke-width:1.5" d="M1206,423.8 L1451.5,472.4"/>
<path class="l" d="M1206,426.5 L1451.5,475 M1207,440.7 L1449.2,491.6"/>
<path class="l" style="stroke-width:1.5" d="M1195.8,443 L1512.6,506.3"/>
<path class="t" d="M1199,436 L1205,441"/>
<ellipse cx="1389.3" cy="472.4" rx="7.5" ry="4.3" class="o" style="stroke-width:1.6"/>
<ellipse cx="1389.5" cy="472.8" rx="4.5" ry="2.3" class="t"/>
<path class="o" d="M1460.4,456.5 L1493.5,464.5 L1494.8,479 L1489,480 L1487,468 L1462,463 Z" style="stroke-width:1.5"/>
<path class="o" d="M1480.3,498.2 L1512.7,500 L1512.7,504.8 L1480.3,502 Z"/>
<path class="o" d="M1486,472 L1508,476 L1510,495 L1486,492 Z"/>
<path class="o" d="M1506.7,482 L1511,479.7 L1517,481 L1521.3,486 L1519,495.6 L1508,494 Z"/>
<path class="o" d="M1456.5,463.2 L1482.9,467.8 L1485,493 L1451,488 Q1449,475 1456.5,463.2 Z" style="stroke-width:1.5"/>
<ellipse cx="1484.9" cy="481" rx="5" ry="12.5" class="o" style="stroke-width:1.5"/>
<ellipse cx="1485.5" cy="481" rx="3" ry="8.5" class="l" style="stroke-width:1.4"/>
<path class="t" d="M1458,479 Q1463,474 1468,479 Q1473,474 1477,479"/>
<path class="o" d="M1465.7,505 L1480.3,506 L1480.3,518 Q1473,523 1466,518.5 Z" style="stroke-width:1.4"/>
<path class="o" d="M1445.2,482.3 L1477,487.6 L1481,506.2 L1447.2,500.9 Z" style="stroke-width:1.5"/>
<path class="l" d="M1477,487.6 L1480,489 L1483,504"/>
<path class="o" d="M1454.5,492 L1458.5,489.5 L1464,490.5 L1465.5,495 L1461.5,498.5 L1456,497.5 Z" style="stroke-width:1.3"/>
</g>

<!-- PART K: blocks 270 -->
<g id="blocks">
<g id="blk1">
<path class="o" style="stroke-width:1.6" d="M576.9,539.6 L578.5,536 L588.2,538 L602,517 L608.8,517.4 L609.6,521 L594.3,547.7 L577.7,545.3 Z"/>
<path d="M578.5,540.5 L593.5,543 L594,546 L578.5,543.5 Z" fill="#555"/>
<path class="l" d="M577.5,540 L592.5,542.5 L608.8,518"/>
<path class="o" style="stroke-width:1.6" d="M591.8,507.7 L601.1,509.3 L602.4,514.2 L588.6,538 L578.9,536.4 L578.5,531.1 Z"/>
<path class="l" d="M578.5,531.1 L588.6,533.2 L601.1,509.3 M588.6,533.2 L588.6,538"/>
<path class="t" d="M598,515 L588.5,532 M599.5,517.5 L593,530"/>
<ellipse cx="592.7" cy="515.4" rx="2" ry="1.4" class="l" style="stroke-width:1.4"/>
<ellipse cx="586.6" cy="525.9" rx="2" ry="1.4" class="l" style="stroke-width:1.4"/>
<path d="M594,524.5 L594.8,527.5" stroke="#000" stroke-width="1.2"/>
<path class="l" d="M602.5,517.5 Q606,516.5 608,519"/>
</g>
<use href="#blk1" transform="translate(492.3,97.6)"/>
</g>

<!-- LABELS -->
<g id="labels">
<text x="321" y="161.1" textLength="60.8" lengthAdjust="spacingAndGlyphs">119RID303</text>
<text x="283" y="243.8" textLength="67.2" lengthAdjust="spacingAndGlyphs">88001-0156</text>
<text x="338" y="334.6" textLength="61.2" lengthAdjust="spacingAndGlyphs">119RID098</text>
<text x="522.6" y="117.8" textLength="67.4" lengthAdjust="spacingAndGlyphs">88001-0042</text>
<text x="594" y="133.8" textLength="66.8" lengthAdjust="spacingAndGlyphs">88001-0141</text>
<text x="702" y="118.2" textLength="61.1" lengthAdjust="spacingAndGlyphs">119RID273</text>
<text x="733" y="166" textLength="67.1" lengthAdjust="spacingAndGlyphs">88001-0201</text>
<text x="795.7" y="193.6" textLength="67.1" lengthAdjust="spacingAndGlyphs">88001-0152</text>
<text x="665" y="255.7" textLength="58.8" lengthAdjust="spacingAndGlyphs">119RIY077</text>
<text x="677" y="292.7" textLength="60.6" lengthAdjust="spacingAndGlyphs">119RID141</text>
<text x="1124.8" y="272.8" textLength="67.2" lengthAdjust="spacingAndGlyphs">88001-0132</text>
<text x="472" y="512.5" textLength="66.7" lengthAdjust="spacingAndGlyphs">88001-0143</text>
<text x="761.3" y="650" textLength="60.7" lengthAdjust="spacingAndGlyphs">119RID270</text>
<text x="1143.7" y="642" textLength="67" lengthAdjust="spacingAndGlyphs">88001-0145</text>
<text x="1341.8" y="426" textLength="67.2" lengthAdjust="spacingAndGlyphs">88001-0195</text>
</g>
<!-- LEADERS -->
<g class="ld">
<path d="M305.3,132 L334.7,147.5"/>
<path d="M300.8,248.4 L269.9,264.7"/>
<path d="M353.1,339.5 L322.4,355.5"/>
<path d="M378.3,339.5 L390.2,391.1"/>
<path d="M540.3,122.3 L510.3,138.2"/>
<path d="M611.5,138.1 L581.4,154.3"/>
<path d="M716.8,122.6 L685.9,139.1"/>
<path d="M751,170.4 L722.3,185.4"/>
<path d="M813.4,198.2 L787.4,213"/>
<path d="M678.2,260.5 L648.3,276.2"/>
<path d="M694.7,297.2 L665.3,312.6"/>
<path d="M1142.8,277.3 L1111.8,293.3"/>
<path d="M550,483.3 L519.2,499.8"/>
<path d="M600,533.8 L774.5,637.5"/>
<path d="M810,636.3 L1073.3,622.9"/>
<path d="M1220.9,611.5 L1190.4,629"/>
<path d="M1359.9,430.5 L1329.3,446.8"/>
</g>
</svg>
</body></html>
